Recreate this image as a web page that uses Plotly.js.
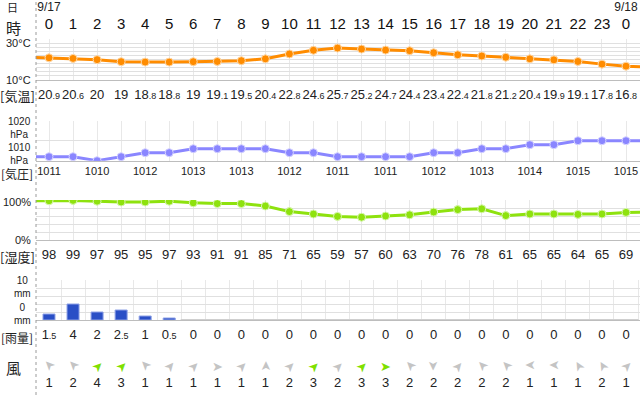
<!DOCTYPE html>
<html><head><meta charset="utf-8">
<script src="https://cdn.plot.ly/plotly-3.0.1.min.js"></script>
<style>html,body{margin:0;padding:0;background:#fff}#chart{width:640px;height:395px}</style>
</head><body><div id="chart"></div>
<script>
// ---------- data ----------
const hours = [0,1,2,3,4,5,6,7,8,9,10,11,12,13,14,15,16,17,18,19,20,21,22,23,24];
const hourLabels = ['0','1','2','3','4','5','6','7','8','9','10','11','12','13','14','15','16','17','18','19','20','21','22','23','0'];
const dateHours = [0, 24];
const dateLabels = ['9/17', '9/18'];
// hours including the off-edge neighbours so the lines run to the panel borders
const lineHours = [-1,0,1,2,3,4,5,6,7,8,9,10,11,12,13,14,15,16,17,18,19,20,21,22,23,24,25];
const temperature = [21.2,20.9,20.6,20,19,18.8,18.8,19,19.1,19.5,20.4,22.8,24.6,25.7,25.2,24.7,24.4,23.4,22.4,21.8,21.2,20.4,19.9,19.1,17.8,16.8,16.4];
const pressure = [1011,1011,1011,1010,1011,1012,1012,1013,1013,1013,1013,1012,1012,1011,1011,1011,1011,1012,1012,1013,1013,1014,1014,1015,1015,1015,1015];
const humidity = [98,98,99,97,95,95,97,93,91,91,85,71,65,59,57,60,63,70,76,78,61,65,65,64,65,69,70];
const rain = [1.5,4,2,2.5,1,0.5,0,0,0,0,0,0,0,0,0,0,0,0,0,0,0,0,0,0,0];
const windSpeed = [1,2,4,3,1,1,1,1,1,1,2,3,2,3,3,2,2,2,2,2,1,1,1,2,1];
const windDir = [315,315,45,45,315,40,45,90,45,0,45,45,45,45,90,315,180,40,315,315,270,270,330,330,45];

// ---------- helpers ----------
const W = 640, H = 395;
const FONT = 'Liberation Sans, Noto Sans CJK JP, sans-serif';
const JFONT = 'Noto Sans CJK JP, sans-serif';
const fy = p => 1 - p / H;
const dom = (top, bottom) => [fy(bottom), fy(top)];
function fmt(v){
  if (Number.isInteger(v)) return String(v);
  const s = v.toFixed(1).split('.');
  return s[0] + '<span style="font-size:9px">.' + s[1] + '</span>';
}
const inner = a => a.slice(1, -1);

const xRange = [-0.5407, 24.582];
const xDom = [36 / W, 1];
function xa(anchor, opts){
  return Object.assign({range: xRange, domain: xDom, anchor: anchor, showticklabels: false, ticks: '',
    zeroline: false, fixedrange: true, showgrid: true, gridcolor: '#e8e8e8', gridwidth: 1,
    tick0: 0, dtick: 1, showline: true, linecolor: '#bdbdbd', linewidth: 1}, opts || {});
}
function ya(anchor, d, r, dt){
  return {domain: d, range: r, anchor: anchor, dtick: dt, tick0: r[0], showticklabels: false, ticks: '',
    zeroline: false, fixedrange: true, showgrid: true, gridcolor: '#e0e0e0', gridwidth: 1, showline: false};
}

const textRow = (xs, texts, row, size, color) => ({
  type: 'scatter', mode: 'text', x: xs, y: xs.map(() => row), text: texts,
  textposition: 'middle center', cliponaxis: false, hoverinfo: 'skip',
  textfont: {family: FONT, size: size, color: color || '#222'}, xaxis: 'x5', yaxis: 'y6', showlegend: false
});

const evenIdx = hours.filter(h => h % 2 === 0);
const traces = [
  {type: 'scatter', mode: 'lines+markers', x: lineHours, y: temperature, xaxis: 'x', yaxis: 'y',
   line: {color: '#ff8c00', width: 3}, marker: {color: '#ff8c00', size: 8, line: {color: '#ffd9a8', width: 1}}, showlegend: false},
  {type: 'scatter', mode: 'lines+markers', x: lineHours, y: pressure, xaxis: 'x2', yaxis: 'y2',
   line: {color: '#8a86ff', width: 3}, marker: {color: '#8a86ff', size: 8, line: {color: '#d6d4ff', width: 1}}, showlegend: false},
  {type: 'scatter', mode: 'lines+markers', x: lineHours, y: humidity, xaxis: 'x3', yaxis: 'y3',
   line: {color: '#8ee20e', width: 3}, marker: {color: '#8ee20e', size: 8, line: {color: '#d8f6b0', width: 1}}, showlegend: false},
  {type: 'bar', x: hours, y: rain, xaxis: 'x4', yaxis: 'y4', width: 0.5,
   marker: {color: '#2a4fc6', line: {color: '#8fa2e6', width: 1}}, showlegend: false},
  {type: 'scatter', mode: 'markers', x: hours, y: rain.map(v => v === 0 ? 0 : null), xaxis: 'x4', yaxis: 'y4',
   marker: {symbol: 'line-ew-open', size: 18, color: '#cfcfcf', line: {width: 2}}, cliponaxis: false, showlegend: false},
  textRow(dateHours, dateLabels, 8, 12),
  textRow(hours, hourLabels, 25, 15, '#111'),
  textRow(hours, inner(temperature).map(fmt), 96, 13),
  textRow(evenIdx, evenIdx.map(h => String(pressure[h + 1])), 172, 11),
  textRow(hours, inner(humidity).map(String), 256, 13),
  textRow(hours, rain.map(fmt), 336, 13),
  textRow(hours, windSpeed.map(String), 384, 13)
];

const ann = (text, x, y, size, anchor, fam) => ({text: text, x: x / W, y: fy(y), xref: 'paper', yref: 'paper',
  xanchor: anchor || 'right', yanchor: 'middle', showarrow: false, font: {family: fam || FONT, size: size, color: '#222'}});
const annotations = [
  ann('日', 12, 7, 11, 'center', JFONT),
  ann('時', 13, 27, 15, 'center', JFONT),
  ann('30°C', 33, 43, 11), ann('10°C', 33, 80, 11),
  ann('[気温]', 17, 96, 13, 'center', JFONT),
  ann('1020<br>hPa', 33, 128, 10),
  ann('1010<br>hPa', 33, 154, 10),
  ann('[気圧]', 17, 173, 12, 'center', JFONT),
  ann('100%', 33, 202, 11), ann('0%', 33, 240, 11),
  ann('[湿度]', 17, 256, 13, 'center', JFONT),
  ann('10<br>mm', 33, 287, 10),
  ann('0<br>mm', 33, 314, 10),
  ann('[雨量]', 17, 337, 12, 'center', JFONT),
  ann('風', 13, 367, 15, 'center', JFONT)
];
hours.forEach((h, i) => {
  annotations.push({text: '➤', x: h, y: 366, xref: 'x5', yref: 'y6', showarrow: false,
    xanchor: 'center', yanchor: 'middle', textangle: windDir[i] - 90,
    font: {family: 'DejaVu Sans', size: 13, color: windSpeed[i] >= 3 ? '#7fe000' : '#c4c4c4'}});
});

const layout = {
  width: W, height: H, margin: {l: 0, r: 0, t: 0, b: 0},
  paper_bgcolor: '#fff', plot_bgcolor: 'rgba(0,0,0,0)', showlegend: false, bargap: 0,
  xaxis: xa('y'), yaxis: ya('x', dom(39.3, 80), [10, 30], 2),
  xaxis2: xa('y2'), yaxis2: ya('x2', dom(120.7, 160.7), [1010, 1020], 5),
  xaxis3: xa('y3'), yaxis3: ya('x3', dom(200, 240), [0, 100], 20),
  xaxis4: xa('y4', {tick0: 0.5}), yaxis4: ya('x4', dom(280, 320), [0, 10], 2),
  xaxis5: xa('y6', {showgrid: false, showline: false}),
  yaxis6: {domain: [0, 1], range: [H, 0], anchor: 'x5', visible: false, fixedrange: true},
  annotations: annotations,
  shapes: [{type: 'line', xref: 'paper', yref: 'paper', x0: 36 / W, x1: 36 / W, y0: 0, y1: 1,
    line: {color: '#9a9a9a', width: 1, dash: 'dot'}}]
};
Plotly.newPlot('chart', traces, layout, {staticPlot: true, displayModeBar: false});
</script></body></html>
